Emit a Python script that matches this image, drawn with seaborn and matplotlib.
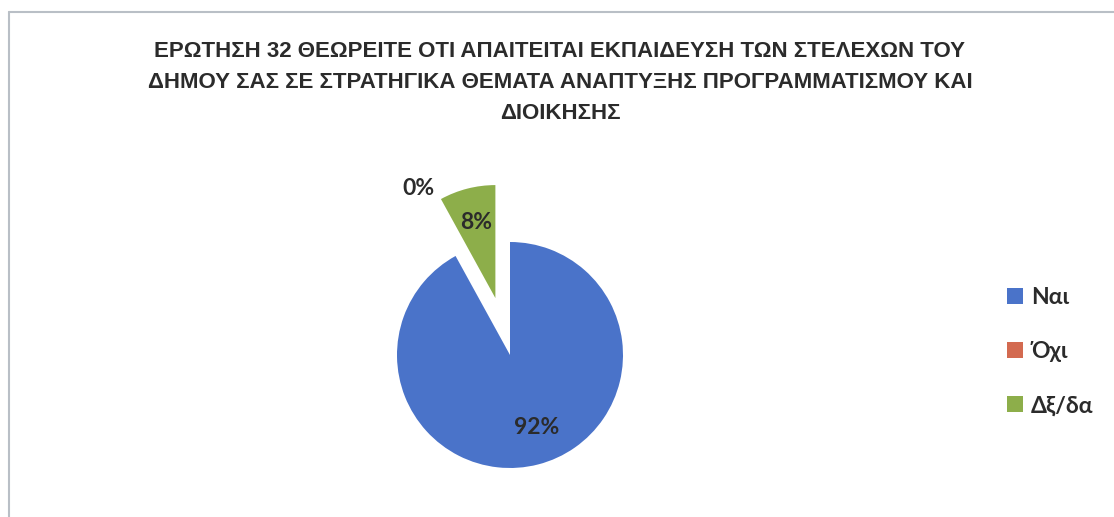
import numpy as np
import matplotlib
matplotlib.use("Agg")
import matplotlib.pyplot as plt
from matplotlib.lines import Line2D
import seaborn as sns

# ---- data ----
categories = ["Ναι", "Όχι", "Δξ/δα"]
values = [92, 0, 8]
pct_labels = ["92%", "0%", "8%"]
title_text = ("ΕΡΩΤΗΣΗ 32 ΘΕΩΡΕΙΤΕ ΟΤΙ ΑΠΑΙΤΕΙΤΑΙ ΕΚΠΑΙΔΕΥΣΗ ΤΩΝ ΣΤΕΛΕΧΩΝ ΤΟΥ\n"
              "ΔΗΜΟΥ ΣΑΣ ΣΕ ΣΤΡΑΤΗΓΙΚΑ ΘΕΜΑΤΑ ΑΝΑΠΤΥΞΗΣ ΠΡΟΓΡΑΜΜΑΤΙΣΜΟΥ ΚΑΙ\n"
              "ΔΙΟΙΚΗΣΗΣ")

# ---- style ----
colors = ["#4A73C9", "#D36A50", "#8DAE4A"]
explode_frac = [0.0, 0.5, 0.52]
label_dist = [0.66, 1.18, 0.69]

sns.set_theme(style="white")
body_font = "Lato"
plt.rcParams["font.family"] = [body_font, "DejaVu Sans"]

W, H = 1114, 517
fig = plt.figure(figsize=(W / 100, H / 100), dpi=100)
fig.patch.set_facecolor("white")
ax = fig.add_axes([0, 0, 1, 1])

cx, cy, r = 510, H - 355, 113
wedges, _ = ax.pie(values, colors=colors, startangle=90, counterclock=False,
                   explode=[e * r for e in explode_frac], radius=r,
                   center=(cx, cy), frame=True, wedgeprops=dict(linewidth=0))
ax.set_xlim(0, W)
ax.set_ylim(0, H)
ax.set_aspect("equal")
ax.axis("off")

for w, lab, d in zip(wedges, pct_labels, label_dist):
    ang = np.deg2rad((w.theta1 + w.theta2) / 2)
    wx, wy = w.center
    ax.text(wx + d * r * np.cos(ang) + (8 if lab == "92%" else 0),
            wy + d * r * np.sin(ang), lab,
            ha="center", va="center", fontsize=16.5, fontweight="bold",
            color="#2b2b2b", family=[body_font, "DejaVu Sans"])

fig.text(560 / W, 1 - 41 / H, title_text, ha="center", va="top",
         fontsize=16, fontweight="bold", color="#2b2b2b",
         family=["Liberation Sans", "DejaVu Sans"], linespacing=1.62)

leg = fig.legend(wedges, categories, loc="upper left",
                 bbox_to_anchor=(1007 / W, 1 - 287 / H), frameon=False,
                 handlelength=0.7, handleheight=0.7,
                 handletextpad=0.35, labelspacing=1.45, borderpad=0, borderaxespad=0,
                 prop=dict(family=[body_font, "DejaVu Sans"], weight="bold", size=16.5))
for t in leg.get_texts():
    t.set_color("#2b2b2b")

# chart frame
fc = "#B9BFC6"
fig.add_artist(Line2D([9 / W, 1], [1 - 12 / H, 1 - 12 / H], color=fc, lw=1.5))
fig.add_artist(Line2D([9 / W, 9 / W], [1 - 12 / H, 0], color=fc, lw=1.5))

fig.savefig("out.png", dpi=100, facecolor="white")
